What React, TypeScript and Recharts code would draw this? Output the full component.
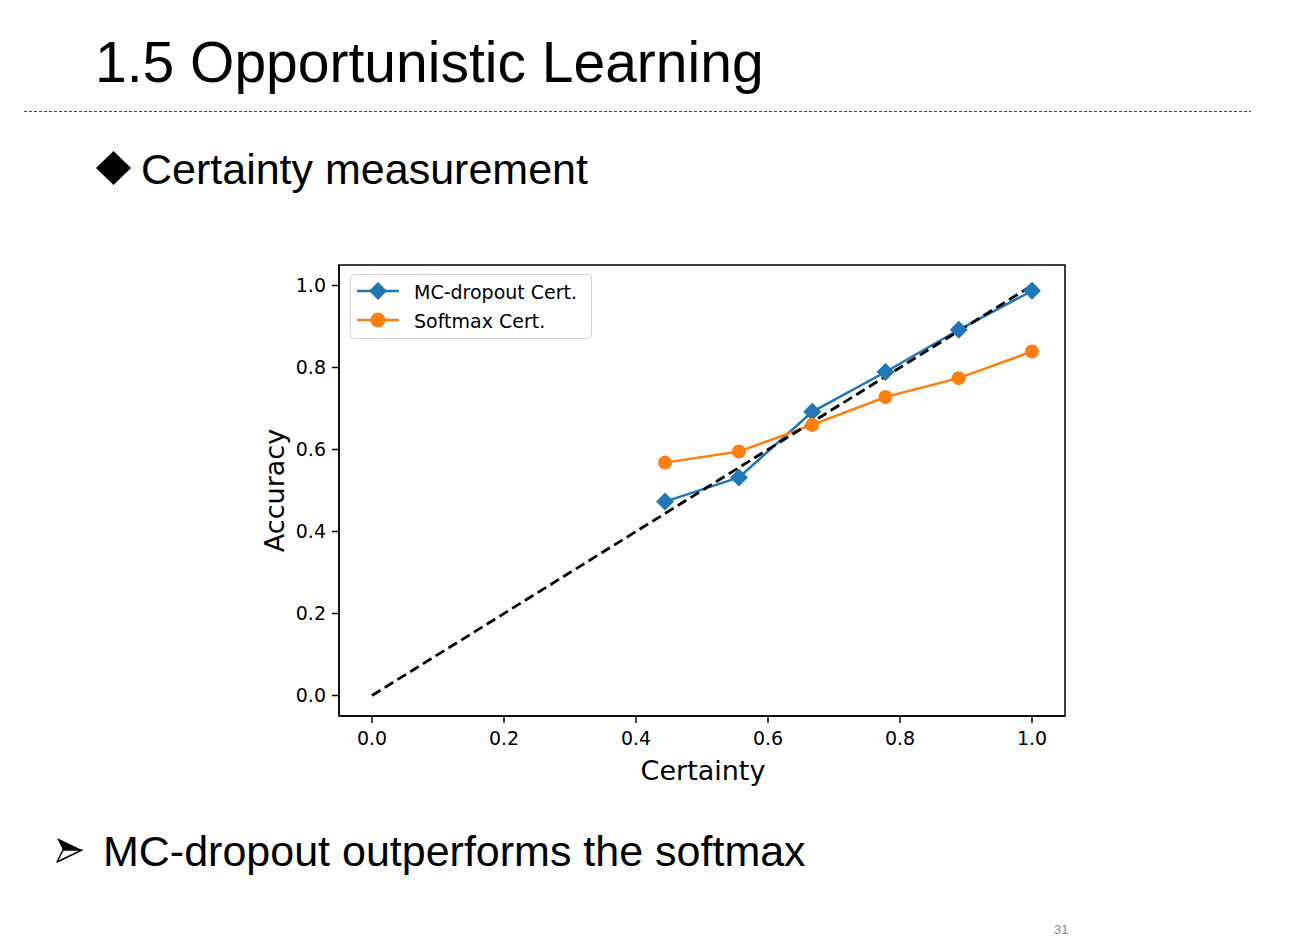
import React from 'react';
import { LineChart, Line, XAxis, YAxis, Legend, Label, ReferenceArea } from 'recharts';

const certainty = [0.444, 0.556, 0.667, 0.778, 0.889, 1.0];
const mcDropout = [0.473, 0.532, 0.692, 0.789, 0.892, 0.987];
const softmax = [0.568, 0.595, 0.66, 0.728, 0.774, 0.839];
const diagonalX = [0, 1];
const axisTicks = [0, 0.2, 0.4, 0.6, 0.8, 1.0];

const mcData = certainty.map((x, i) => ({ x, y: mcDropout[i] }));
const softData = certainty.map((x, i) => ({ x, y: softmax[i] }));
const diagData = diagonalX.map((x) => ({ x, y: x }));

const BLUE = '#1f77b4';
const ORANGE = '#ff7f0e';
const FONT = 'DejaVu Sans, Verdana, sans-serif';
const SLIDE_FONT = 'Liberation Sans, Arial, sans-serif';
const DOMAIN: [number, number] = [-0.05, 1.05];

const diamondPts = (cx: number, cy: number, r: number) =>
  `${cx - r},${cy} ${cx},${cy - r} ${cx + r},${cy} ${cx},${cy + r}`;

const DiamondDot = (props: any) => {
  const { cx, cy, index } = props;
  if (cx == null || cy == null) return <g key={index} />;
  return <polygon key={index} points={diamondPts(cx, cy, 9)} fill={BLUE} />;
};

const legendItems = [
  { name: 'MC-dropout Cert.', color: BLUE, marker: 'diamond' },
  { name: 'Softmax Cert.', color: ORANGE, marker: 'circle' },
];

const renderLegend = () => (
  <svg width={243} height={66} style={{ display: 'block', fontFamily: FONT }}>
    <rect x={0.5} y={0.5} width={241} height={64} rx={4} fill="#fff" fillOpacity={0.8} stroke="#d3d3d3" />
    {legendItems.map((it, i) => {
      const cy = 17 + i * 29;
      return (
        <g key={it.name}>
          <line x1={7} x2={49} y1={cy} y2={cy} stroke={it.color} strokeWidth={2.5} />
          {it.marker === 'diamond' ? (
            <polygon points={diamondPts(28, cy, 9)} fill={it.color} />
          ) : (
            <circle cx={28} cy={cy} r={7.5} fill={it.color} />
          )}
          <text x={64} y={cy + 7.5} fontSize={19} fill="#000">
            {it.name}
          </text>
        </g>
      );
    })}
  </svg>
);

const axisStroke = { stroke: '#000', strokeWidth: 1.5 };
const tickStyle = { fontSize: 19, fill: '#000', fontFamily: FONT };

export default function App() {
  return (
    <div style={{ position: 'absolute', left: 0, top: 0, width: 1297, height: 950, background: '#fff' }}>
      <svg width={1297} height={950} style={{ position: 'absolute', left: 0, top: 0 }}>
        <text x={95} y={82} fontSize={57} fontFamily={SLIDE_FONT} fill="#000">
          1.5 Opportunistic Learning
        </text>
        <line x1={24} x2={1251} y1={111.5} y2={111.5} stroke="#444" strokeWidth={1} strokeDasharray="3 2" />
        <polygon points="96,168 113.5,151 131,168 113.5,185" fill="#000" />
        <text x={141} y={184} fontSize={43} fontFamily={SLIDE_FONT} fill="#000">
          Certainty measurement
        </text>
        <polygon points="57,838 82,850 63,850" fill="#000" />
        <polygon points="63,850 82,850 57,862" fill="#fff" stroke="#000" strokeWidth={1.5} strokeLinejoin="round" />
        <text x={103} y={866} fontSize={43} fontFamily={SLIDE_FONT} fill="#000">
          MC-dropout outperforms the softmax
        </text>
        <text x={1054} y={934} fontSize={13} fontFamily={SLIDE_FONT} fill="#888">
          31
        </text>
      </svg>

      <div style={{ position: 'absolute', left: 200.5, top: 230 }}>
        <LineChart
          width={900}
          height={600}
          margin={{ top: 35, right: 36, bottom: 34, left: 58 }}
          style={{ fontFamily: FONT }}
        >
          <XAxis
            dataKey="x"
            type="number"
            domain={DOMAIN}
            ticks={axisTicks}
            allowDataOverflow
            height={80}
            tick={tickStyle}
            tickSize={7}
            tickMargin={9}
            tickLine={axisStroke}
            axisLine={axisStroke}
            tickFormatter={(v: number) => v.toFixed(1)}
          >
            <Label
              content={(p: any) => {
                const vb = p.viewBox || { x: 138, y: 486.5, width: 726 };
                return (
                  <text x={vb.x + vb.width / 2 + 1} y={vb.y + 63.5} textAnchor="middle" fontSize={27} fontFamily={FONT} fill="#000">
                    Certainty
                  </text>
                );
              }}
            />
          </XAxis>
          <YAxis
            dataKey="y"
            type="number"
            domain={DOMAIN}
            ticks={axisTicks}
            allowDataOverflow
            width={80}
            tick={tickStyle}
            tickSize={7}
            tickMargin={6}
            tickLine={axisStroke}
            axisLine={axisStroke}
            tickFormatter={(v: number) => v.toFixed(1)}
          >
            <Label
              content={(p: any) => {
                const vb = p.viewBox || { x: 58, y: 35, height: 451 };
                const cx = vb.x + 25;
                const cy = vb.y + vb.height / 2;
                return (
                  <text
                    x={cx}
                    y={cy}
                    transform={`rotate(-90 ${cx} ${cy})`}
                    textAnchor="middle"
                    fontSize={27}
                    fontFamily={FONT}
                    fill="#000"
                  >
                    Accuracy
                  </text>
                );
              }}
            />
          </YAxis>
          <ReferenceArea
            x1={DOMAIN[0]}
            x2={DOMAIN[1]}
            y1={DOMAIN[0]}
            y2={DOMAIN[1]}
            fill="none"
            fillOpacity={0}
            stroke="#000"
            strokeWidth={1.5}
            strokeOpacity={1}
            ifOverflow="visible"
          />
          <Legend
            layout="horizontal"
            verticalAlign="middle"
            align="center"
            content={renderLegend}
            wrapperStyle={{ left: 149, top: 44, width: 243, height: 66 }}
          />
          <Line
            data={mcData}
            dataKey="y"
            name="MC-dropout Cert."
            stroke={BLUE}
            strokeWidth={2.5}
            dot={DiamondDot}
            activeDot={false}
            isAnimationActive={false}
          />
          <Line
            data={softData}
            dataKey="y"
            name="Softmax Cert."
            stroke={ORANGE}
            strokeWidth={2.5}
            dot={{ r: 7, fill: ORANGE, stroke: ORANGE, strokeWidth: 0 }}
            activeDot={false}
            isAnimationActive={false}
          />
          <Line
            data={diagData}
            dataKey="y"
            stroke="#000"
            strokeWidth={2.8}
            strokeDasharray="10 5"
            dot={false}
            activeDot={false}
            legendType="none"
            isAnimationActive={false}
          />
        </LineChart>
      </div>
    </div>
  );
}
